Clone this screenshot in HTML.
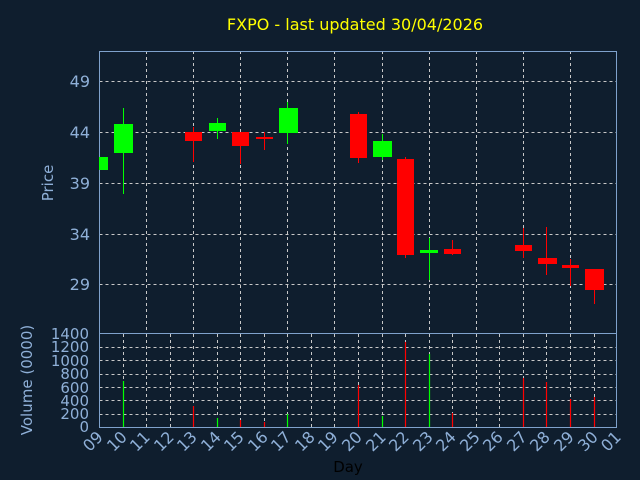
<!DOCTYPE html>
<html><head><meta charset="utf-8"><style>
html,body{margin:0;padding:0;background:#0f1e2e;}
svg{display:block;font-family:"DejaVu Sans","Liberation Sans",sans-serif;}
</style></head><body>
<svg width="640" height="480" viewBox="0 0 640 480" xmlns="http://www.w3.org/2000/svg">
<rect width="640" height="480" fill="#0f1e2e"/>
<text x="355" y="30" fill="#ffff00" font-size="16" text-anchor="middle">FXPO - last updated 30/04/2026</text>
<g stroke="#c8c8c8" stroke-width="1" stroke-dasharray="3,3" fill="none">
<path d="M99.5 81.5H617M99.5 132.5H617M99.5 183.5H617M99.5 234.5H617M99.5 284.5H617"/>
<path d="M146.5 51V333M193.5 51V333M240.5 51V333M287.5 51V333M334.5 51V333M382.5 51V333M429.5 51V333M476.5 51V333M523.5 51V333M570.5 51V333"/>
<path d="M99.5 347.5H617M99.5 360.5H617M99.5 374.5H617M99.5 387.5H617M99.5 400.5H617M99.5 414.5H617"/>
<path d="M123.5 334V427M146.5 334V427M170.5 334V427M193.5 334V427M217.5 334V427M240.5 334V427M264.5 334V427M287.5 334V427M311.5 334V427M334.5 334V427M358.5 334V427M382.5 334V427M405.5 334V427M429.5 334V427M452.5 334V427M476.5 334V427M499.5 334V427M523.5 334V427M546.5 334V427M570.5 334V427M594.5 334V427"/>
</g>
<g stroke="#7fa2cc" stroke-width="1" fill="none">
<rect x="99.5" y="51.5" width="517" height="376"/>
<path d="M99.5 333.5H617"/>
</g>
<g>
<rect x="99" y="157" width="9" height="13" fill="#00ff00"/>
<line x1="123.5" y1="108" x2="123.5" y2="194" stroke="#00ff00"/><rect x="114" y="124" width="19" height="29" fill="#00ff00"/>
<line x1="193.5" y1="127" x2="193.5" y2="162" stroke="#ff0000"/><rect x="185" y="132" width="17" height="9" fill="#ff0000"/>
<line x1="217.5" y1="118" x2="217.5" y2="139" stroke="#00ff00"/><rect x="209" y="123" width="17" height="8" fill="#00ff00"/>
<line x1="240.5" y1="132" x2="240.5" y2="164" stroke="#ff0000"/><rect x="232" y="132" width="17" height="14" fill="#ff0000"/>
<line x1="264.5" y1="132" x2="264.5" y2="150" stroke="#ff0000"/><rect x="256" y="137" width="17" height="2" fill="#ff0000"/>
<line x1="287.5" y1="102" x2="287.5" y2="144" stroke="#00ff00"/><rect x="279" y="108" width="19" height="25" fill="#00ff00"/>
<line x1="358.5" y1="112" x2="358.5" y2="163" stroke="#ff0000"/><rect x="350" y="114" width="17" height="44" fill="#ff0000"/>
<line x1="382.5" y1="134" x2="382.5" y2="160" stroke="#00ff00"/><rect x="373" y="141" width="19" height="16" fill="#00ff00"/>
<line x1="405.5" y1="157" x2="405.5" y2="258" stroke="#ff0000"/><rect x="397" y="159" width="17" height="96" fill="#ff0000"/>
<line x1="429.5" y1="238" x2="429.5" y2="280" stroke="#00ff00"/><rect x="420" y="250" width="18" height="3" fill="#00ff00"/>
<line x1="452.5" y1="240" x2="452.5" y2="255" stroke="#ff0000"/><rect x="444" y="249" width="17" height="5" fill="#ff0000"/>
<line x1="523.5" y1="228" x2="523.5" y2="258" stroke="#ff0000"/><rect x="515" y="245" width="17" height="6" fill="#ff0000"/>
<line x1="546.5" y1="227" x2="546.5" y2="275" stroke="#ff0000"/><rect x="538" y="258" width="19" height="6" fill="#ff0000"/>
<line x1="570.5" y1="259" x2="570.5" y2="286" stroke="#ff0000"/><rect x="562" y="265" width="17" height="3" fill="#ff0000"/>
<line x1="594.5" y1="289" x2="594.5" y2="304" stroke="#ff0000"/><rect x="585" y="269" width="19" height="21" fill="#ff0000"/>
</g>
<g stroke-width="1.2">
<line x1="123.5" y1="381" x2="123.5" y2="427" stroke="#00ff00"/>
<line x1="193.5" y1="406" x2="193.5" y2="427" stroke="#ff0000"/>
<line x1="217.5" y1="418" x2="217.5" y2="427" stroke="#00ff00"/>
<line x1="240.5" y1="420" x2="240.5" y2="427" stroke="#ff0000"/>
<line x1="264.5" y1="422" x2="264.5" y2="427" stroke="#ff0000"/>
<line x1="287.5" y1="414" x2="287.5" y2="427" stroke="#00ff00"/>
<line x1="358.5" y1="385" x2="358.5" y2="427" stroke="#ff0000"/>
<line x1="382.5" y1="416" x2="382.5" y2="427" stroke="#00ff00"/>
<line x1="405.5" y1="342" x2="405.5" y2="427" stroke="#ff0000"/>
<line x1="429.5" y1="354" x2="429.5" y2="427" stroke="#00ff00"/>
<line x1="452.5" y1="413" x2="452.5" y2="427" stroke="#ff0000"/>
<line x1="523.5" y1="378" x2="523.5" y2="427" stroke="#ff0000"/>
<line x1="546.5" y1="382" x2="546.5" y2="427" stroke="#ff0000"/>
<line x1="570.5" y1="399" x2="570.5" y2="427" stroke="#ff0000"/>
<line x1="594.5" y1="397" x2="594.5" y2="427" stroke="#ff0000"/>
</g>
<g fill="#8fb0d8" font-size="16" text-anchor="end">
<text x="90" y="87">49</text><text x="90" y="138">44</text><text x="90" y="189">39</text><text x="90" y="240">34</text><text x="90" y="290">29</text>
</g>
<g fill="#8fb0d8" font-size="15" text-anchor="end">
<text x="89" y="339">1400</text><text x="89" y="352">1200</text><text x="89" y="366">1000</text><text x="89" y="379">800</text><text x="89" y="393">600</text><text x="89" y="406">400</text><text x="89" y="419">200</text><text x="89" y="432">0</text>
</g>
<text transform="translate(53,183) rotate(-90)" fill="#8fb0d8" font-size="15" text-anchor="middle">Price</text>
<text transform="translate(32,380) rotate(-90)" fill="#8fb0d8" font-size="15" text-anchor="middle">Volume (0000)</text>
<g fill="#8fb0d8" font-size="16" text-anchor="end">
<text transform="translate(104,438) rotate(-45)">09</text><text transform="translate(128,438) rotate(-45)">10</text><text transform="translate(151,438) rotate(-45)">11</text><text transform="translate(175,438) rotate(-45)">12</text><text transform="translate(198,438) rotate(-45)">13</text><text transform="translate(222,438) rotate(-45)">14</text><text transform="translate(245,438) rotate(-45)">15</text><text transform="translate(269,438) rotate(-45)">16</text><text transform="translate(292,438) rotate(-45)">17</text><text transform="translate(316,438) rotate(-45)">18</text><text transform="translate(339,438) rotate(-45)">19</text><text transform="translate(363,438) rotate(-45)">20</text><text transform="translate(387,438) rotate(-45)">21</text><text transform="translate(410,438) rotate(-45)">22</text><text transform="translate(434,438) rotate(-45)">23</text><text transform="translate(457,438) rotate(-45)">24</text><text transform="translate(481,438) rotate(-45)">25</text><text transform="translate(504,438) rotate(-45)">26</text><text transform="translate(528,438) rotate(-45)">27</text><text transform="translate(551,438) rotate(-45)">28</text><text transform="translate(575,438) rotate(-45)">29</text><text transform="translate(599,438) rotate(-45)">30</text><text transform="translate(622,438) rotate(-45)">01</text>
</g>
<text x="348" y="472" fill="#000" font-size="15" text-anchor="middle">Day</text>
</svg>
</body></html>
